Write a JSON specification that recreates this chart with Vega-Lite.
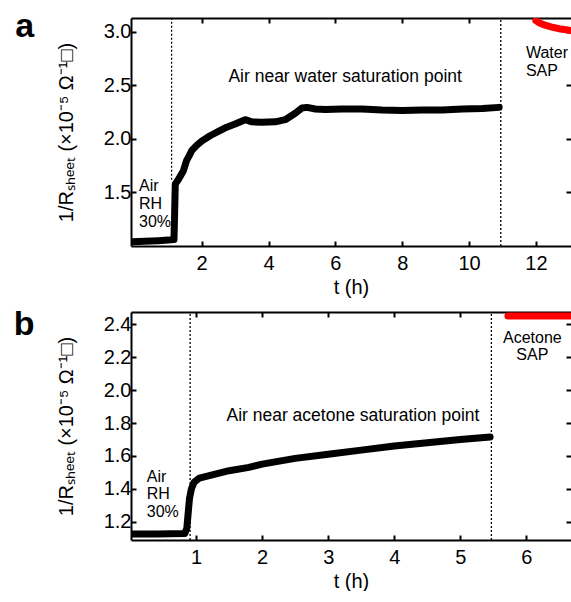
{
  "$schema": "https://vega.github.io/schema/vega-lite/v6.json",
  "padding": {"left": 13, "top": 10, "right": 0, "bottom": 0},
  "spacing": 11,
  "config": {
    "font": "Liberation Sans",
    "view": {"stroke": null},
    "axis": {"grid": false, "domainColor": "black", "domainWidth": 2, "tickColor": "black", "tickWidth": 2, "tickSize": -5, "labelColor": "black", "titleColor": "black", "labelFontSize": 20, "titleFontSize": 20, "titleFontWeight": "normal", "labelFont": "Liberation Sans", "titleFont": "Liberation Sans"},
    "axisX": {"labelPadding": 12, "titlePadding": 4},
    "axisY": {"labelPadding": 5, "titlePadding": 27}
  },
  "vconcat": [
    {
      "width": 440, "height": 228,
      "title": {"text": "a", "orient": "left", "anchor": "end", "frame": "group", "angle": 0, "align": "right", "baseline": "alphabetic", "dy": 19, "offset": 3, "fontSize": 34, "fontWeight": "bold", "color": "black", "font": "Liberation Sans"},
      "resolve": {"axis": {"x": "independent", "y": "independent"}},
      "layer": [
        {
          "data": {"values": [
            {"t": -0.08, "v": 1.04}, {"t": 0.3, "v": 1.045}, {"t": 0.7, "v": 1.05}, {"t": 1.0, "v": 1.055}, {"t": 1.17, "v": 1.06},
            {"t": 1.19, "v": 1.3}, {"t": 1.21, "v": 1.58}, {"t": 1.3, "v": 1.62}, {"t": 1.45, "v": 1.7}, {"t": 1.55, "v": 1.8},
            {"t": 1.62, "v": 1.84}, {"t": 1.7, "v": 1.89}, {"t": 1.85, "v": 1.94}, {"t": 2.0, "v": 1.98}, {"t": 2.25, "v": 2.03},
            {"t": 2.5, "v": 2.07}, {"t": 2.75, "v": 2.11}, {"t": 3.0, "v": 2.14}, {"t": 3.3, "v": 2.18}, {"t": 3.5, "v": 2.16},
            {"t": 3.8, "v": 2.155}, {"t": 4.2, "v": 2.16}, {"t": 4.5, "v": 2.18}, {"t": 4.8, "v": 2.24}, {"t": 5.0, "v": 2.29},
            {"t": 5.15, "v": 2.295}, {"t": 5.4, "v": 2.28}, {"t": 5.7, "v": 2.275}, {"t": 6.2, "v": 2.28}, {"t": 6.8, "v": 2.28},
            {"t": 7.4, "v": 2.27}, {"t": 8.0, "v": 2.265}, {"t": 8.6, "v": 2.27}, {"t": 9.2, "v": 2.27}, {"t": 9.8, "v": 2.28},
            {"t": 10.4, "v": 2.285}, {"t": 10.9, "v": 2.295}
          ]},
          "mark": {"type": "line", "color": "black", "strokeWidth": 7, "strokeCap": "round", "strokeJoin": "round", "clip": true},
          "encoding": {
            "x": {"field": "t", "type": "quantitative", "scale": {"domain": [-0.115, 13.05], "nice": false, "zero": false}, "axis": {"orient": "bottom", "values": [2, 4, 6, 8, 10, 12], "title": "t (h)"}},
            "y": {"field": "v", "type": "quantitative", "scale": {"domain": [1.0, 3.13], "nice": false, "zero": false}, "axis": {"orient": "left", "values": [1.5, 2.0, 2.5, 3.0], "format": ".1f", "title": "1/Rₛₕₑₑₜ (×10⁻⁵ Ω⁻¹□)"}}
          }
        },
        {
          "data": {"values": [
            {"t": 12.0, "v": 3.105}, {"t": 12.1, "v": 3.085}, {"t": 12.25, "v": 3.065}, {"t": 12.45, "v": 3.047}, {"t": 12.7, "v": 3.03}, {"t": 12.9, "v": 3.02}, {"t": 13.05, "v": 3.012}
          ]},
          "mark": {"type": "line", "color": "#ff0000", "strokeWidth": 7, "strokeCap": "round", "clip": true},
          "encoding": {
            "x": {"field": "t", "type": "quantitative", "axis": {"orient": "top", "labels": false, "title": null, "values": [2, 4, 6, 8, 10, 12]}},
            "y": {"field": "v", "type": "quantitative", "axis": {"orient": "right", "labels": false, "title": null, "domain": false, "values": [1.5, 2.0, 2.5, 3.0]}}
          }
        },
        {
          "data": {"values": [{"t": 1.1, "v1": 1.62, "v2": 3.13}, {"t": 10.95, "v1": 1.0, "v2": 3.13}]},
          "mark": {"type": "rule", "color": "black", "strokeWidth": 1.3, "strokeDash": [2, 2]},
          "encoding": {
            "x": {"field": "t", "type": "quantitative", "axis": null},
            "y": {"field": "v1", "type": "quantitative", "axis": null},
            "y2": {"field": "v2"}
          }
        },
        {
          "data": {"values": [
            {"t": 2.8, "v": 2.534, "label": "Air near water saturation point"}
          ]},
          "mark": {"type": "text", "align": "left", "baseline": "alphabetic", "fontSize": 17.5, "color": "black"},
          "encoding": {
            "x": {"field": "t", "type": "quantitative", "axis": null},
            "y": {"field": "v", "type": "quantitative", "axis": null},
            "text": {"field": "label", "type": "nominal"}
          }
        },
        {
          "data": {"values": [
            {"t": 0.125, "v": 1.511, "label": "Air\nRH\n30%"},
            {"t": 11.7, "v": 2.755, "label": "Water\nSAP"}
          ]},
          "mark": {"type": "text", "align": "left", "baseline": "alphabetic", "fontSize": 16, "lineHeight": 18, "lineBreak": "\n", "color": "black"},
          "encoding": {
            "x": {"field": "t", "type": "quantitative", "axis": null},
            "y": {"field": "v", "type": "quantitative", "axis": null},
            "text": {"field": "label", "type": "nominal"}
          }
        }
      ]
    },
    {
      "width": 440, "height": 228,
      "title": {"text": "b", "orient": "left", "anchor": "end", "frame": "group", "angle": 0, "align": "right", "baseline": "alphabetic", "dy": 23, "offset": 1, "fontSize": 34, "fontWeight": "bold", "color": "black", "font": "Liberation Sans"},
      "resolve": {"axis": {"x": "independent", "y": "independent"}},
      "layer": [
        {
          "data": {"values": [
            {"t": 0.03, "v": 1.125}, {"t": 0.4, "v": 1.125}, {"t": 0.83, "v": 1.128}, {"t": 0.86, "v": 1.16}, {"t": 0.88, "v": 1.25},
            {"t": 0.9, "v": 1.34}, {"t": 0.93, "v": 1.4}, {"t": 0.97, "v": 1.44}, {"t": 1.05, "v": 1.465}, {"t": 1.2, "v": 1.48},
            {"t": 1.5, "v": 1.51}, {"t": 1.8, "v": 1.53}, {"t": 2.0, "v": 1.55}, {"t": 2.5, "v": 1.585}, {"t": 3.0, "v": 1.61},
            {"t": 3.5, "v": 1.635}, {"t": 4.0, "v": 1.66}, {"t": 4.5, "v": 1.68}, {"t": 5.0, "v": 1.7}, {"t": 5.45, "v": 1.715}
          ]},
          "mark": {"type": "line", "color": "black", "strokeWidth": 7, "strokeCap": "round", "strokeJoin": "round", "clip": true},
          "encoding": {
            "x": {"field": "t", "type": "quantitative", "scale": {"domain": [0.015, 6.675], "nice": false, "zero": false}, "axis": {"orient": "bottom", "values": [1, 2, 3, 4, 5, 6], "title": "t (h)"}},
            "y": {"field": "v", "type": "quantitative", "scale": {"domain": [1.088, 2.476], "nice": false, "zero": false}, "axis": {"orient": "left", "values": [1.2, 1.4, 1.6, 1.8, 2.0, 2.2, 2.4], "format": ".1f", "title": "1/Rₛₕₑₑₜ (×10⁻⁵ Ω⁻¹□)"}}
          }
        },
        {
          "data": {"values": [{"t": 5.72, "v": 2.452}, {"t": 6.2, "v": 2.452}, {"t": 6.675, "v": 2.452}]},
          "mark": {"type": "line", "color": "#ff0000", "strokeWidth": 7, "strokeCap": "round", "clip": true},
          "encoding": {
            "x": {"field": "t", "type": "quantitative", "axis": {"orient": "top", "labels": false, "title": null, "values": [1, 2, 3, 4, 5, 6]}},
            "y": {"field": "v", "type": "quantitative", "axis": {"orient": "right", "labels": false, "title": null, "domain": false, "values": [1.2, 1.4, 1.6, 1.8, 2.0, 2.2, 2.4]}}
          }
        },
        {
          "data": {"values": [{"t": 0.91, "v1": 1.088, "v2": 2.476}, {"t": 5.47, "v1": 1.088, "v2": 2.476}]},
          "mark": {"type": "rule", "color": "black", "strokeWidth": 1.3, "strokeDash": [2, 2]},
          "encoding": {
            "x": {"field": "t", "type": "quantitative", "axis": null},
            "y": {"field": "v1", "type": "quantitative", "axis": null},
            "y2": {"field": "v2"}
          }
        },
        {
          "data": {"values": [
            {"t": 1.46, "v": 1.812, "label": "Air near acetone saturation point"}
          ]},
          "mark": {"type": "text", "align": "left", "baseline": "alphabetic", "fontSize": 17.5, "color": "black"},
          "encoding": {
            "x": {"field": "t", "type": "quantitative", "axis": null},
            "y": {"field": "v", "type": "quantitative", "axis": null},
            "text": {"field": "label", "type": "nominal"}
          }
        },
        {
          "data": {"values": [
            {"t": 0.254, "v": 1.444, "label": "Air\nRH\n30%"}
          ]},
          "mark": {"type": "text", "align": "left", "baseline": "alphabetic", "fontSize": 16, "lineHeight": 17.5, "lineBreak": "\n", "color": "black"},
          "encoding": {
            "x": {"field": "t", "type": "quantitative", "axis": null},
            "y": {"field": "v", "type": "quantitative", "axis": null},
            "text": {"field": "label", "type": "nominal"}
          }
        },
        {
          "data": {"values": [{"t": 6.09, "v": 2.287, "label": "Acetone\nSAP"}]},
          "mark": {"type": "text", "align": "center", "baseline": "alphabetic", "fontSize": 16, "lineHeight": 17, "lineBreak": "\n", "color": "black"},
          "encoding": {
            "x": {"field": "t", "type": "quantitative", "axis": null},
            "y": {"field": "v", "type": "quantitative", "axis": null},
            "text": {"field": "label", "type": "nominal"}
          }
        }
      ]
    }
  ]
}
